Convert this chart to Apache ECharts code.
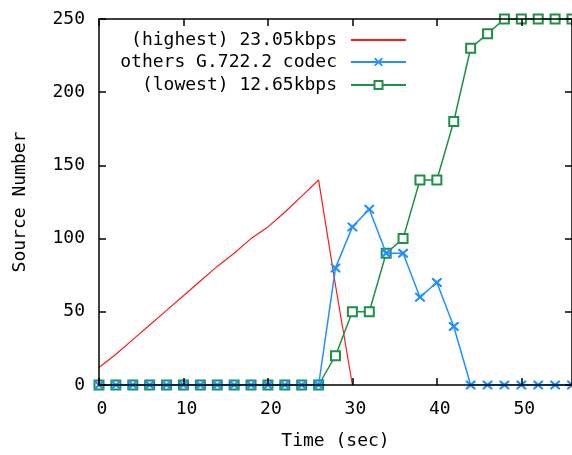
<!DOCTYPE html>
<html>
<head>
<meta charset="utf-8">
<script src="https://cdn.jsdelivr.net/npm/echarts@6/dist/echarts.min.js"></script>
<style>
html,body{margin:0;padding:0;background:#fff;}
#chart{width:572px;height:455px;}
</style>
</head>
<body>
<div id="chart"></div>
<script>
// ---- data ----
const seriesNames = ['(highest) 23.05kbps', 'others G.722.2 codec', '(lowest) 12.65kbps'];
const redTime = [0,2,4,6,8,10,12,14,16,18,20,22,24,26,28,30];
const redVals = [12,21,31,41,51,61,71,81,90,100,108,118,129,140,68,0];
const time = [0,2,4,6,8,10,12,14,16,18,20,22,24,26,28,30,32,34,36,38,40,42,44,46,48,50,52,54,56];
const blueVals = [0,0,0,0,0,0,0,0,0,0,0,0,0,0,80,108,120,90,90,60,70,40,0,0,0,0,0,0,0];
const greenVals = [0,0,0,0,0,0,0,0,0,0,0,0,0,0,20,50,50,90,100,140,140,180,230,240,250,250,250,250,250];
const xTicks = [0,10,20,30,40,50];
const yTicks = [0,50,100,150,200,250];

const FONT = 'DejaVu Sans Mono';
const RED = '#ff1a1a', BLUE = '#2090ff', GREEN = '#1e9048';
const crossPath = 'path://M0,0L1.6,0L5,3.4L8.4,0L10,0L10,1.6L6.6,5L10,8.4L10,10L8.4,10L5,6.6L1.6,10L0,10L0,8.4L3.4,5L0,1.6Z';

function pairs(xs, ys){ return xs.map((x,i)=>[x, ys[i]]); }

const chart = echarts.init(document.getElementById('chart'), null, {renderer:'canvas'});

const axisCommon = {
  type:'value',
  splitLine:{show:false},
  axisLine:{show:true, onZero:false, lineStyle:{color:'#000', width:1.5}},
  axisTick:{show:true, inside:true, length:7, lineStyle:{color:'#000', width:1.5}},
  z: 5
};

const legendCommon = {
  orient:'vertical', align:'right', right:165, padding:0,
  itemWidth:55, itemHeight:10, selectedMode:false,
  textStyle:{fontFamily:FONT, fontSize:18, color:'#000', padding:[0,9,0,0]}
};

chart.setOption({
  animation:false,
  backgroundColor:'#fff',
  grid:{left:99, right:0, top:19, bottom:66, containLabel:false},
  legend:[
    Object.assign({}, legendCommon, {data:[seriesNames[0]], top:31, itemStyle:{opacity:0}}),
    Object.assign({}, legendCommon, {data:[seriesNames[1]], top:53}),
    Object.assign({}, legendCommon, {data:[seriesNames[2]], top:76})
  ],
  xAxis:[
    Object.assign({}, axisCommon, {
      position:'bottom', min:xTicks[0], max:56, interval:10,
      name:'Time (sec)', nameLocation:'middle', nameGap:47,
      nameTextStyle:{fontFamily:FONT, fontSize:18, color:'#000'},
      axisLabel:{show:true, margin:15, showMaxLabel:false, fontFamily:FONT, fontSize:18, color:'#000', padding:[0,0,0,6]}
    }),
    Object.assign({}, axisCommon, {
      position:'top', min:xTicks[0], max:56, interval:10,
      axisLabel:{show:false}
    })
  ],
  yAxis:[
    Object.assign({}, axisCommon, {
      position:'left', min:yTicks[0], max:yTicks[yTicks.length-1], interval:50,
      name:'Source Number', nameLocation:'middle', nameGap:70, nameRotate:90,
      nameTextStyle:{fontFamily:FONT, fontSize:18, color:'#000'},
      axisLabel:{show:true, margin:14, fontFamily:FONT, fontSize:18, color:'#000'}
    }),
    Object.assign({}, axisCommon, {
      position:'right', min:yTicks[0], max:yTicks[yTicks.length-1], interval:50,
      axisLabel:{show:false}
    })
  ],
  series:[
    {
      name:seriesNames[0], type:'line', data:pairs(redTime, redVals),
      symbol:'none', lineStyle:{color:RED, width:1.2}, itemStyle:{color:RED}, z:2
    },
    {
      name:seriesNames[1], type:'line', data:pairs(time, blueVals),
      symbol:crossPath, symbolSize:[10,9], lineStyle:{color:BLUE, width:1.5},
      itemStyle:{color:BLUE}, z:4
    },
    {
      name:seriesNames[2], type:'line', data:pairs(time, greenVals),
      symbol:'emptyRect', symbolSize:9, lineStyle:{color:GREEN, width:1.5},
      itemStyle:{color:GREEN, borderWidth:1.5}, z:3
    }
  ]
});
</script>
</body>
</html>
